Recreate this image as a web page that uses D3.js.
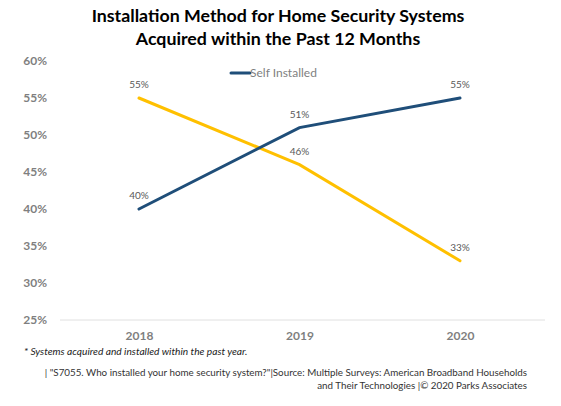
<!DOCTYPE html>
<html lang="en">
<head>
<meta charset="utf-8">
<title>Installation Method for Home Security Systems</title>
<script src="https://cdn.jsdelivr.net/npm/d3@7"></script>
<style>
  body { margin: 0; background: #fff; }
  text { font-family: Lato, "Open Sans", sans-serif; }
</style>
</head>
<body>
<script>
// Data
var years = ["2018", "2019", "2020"];
var selfInstalled = [40, 51, 55];
var otherInstalled = [55, 46, 33];
var yTicks = [25, 30, 35, 40, 45, 50, 55, 60];

var w = 561, h = 406;

var svg = d3.select("body").append("svg")
  .attr("width", w)
  .attr("height", h);

var x = d3.scalePoint()
  .domain(years)
  .range([139, 460]);

var y = d3.scaleLinear()
  .domain([25, 60])
  .range([320, 61]);

// Title
svg.append("text")
  .attr("x", 278).attr("y", 22)
  .attr("text-anchor", "middle")
  .style("font-size", "17.8px").style("font-weight", "bold").style("fill", "#000")
  .text("Installation Method for Home Security Systems");
svg.append("text")
  .attr("x", 278).attr("y", 45)
  .attr("text-anchor", "middle")
  .style("font-size", "17.8px").style("font-weight", "bold").style("fill", "#000")
  .text("Acquired within the Past 12 Months");

// Y axis labels
var yAxis = d3.axisLeft(y)
  .tickValues(yTicks)
  .tickFormat(function(d) { return d + "%"; })
  .tickSize(0);
var gy = svg.append("g")
  .attr("transform", "translate(47,0)")
  .call(yAxis);
gy.select(".domain").remove();
gy.selectAll("text")
  .attr("x", 0)
  .style("font-size", "12px").style("font-weight", "bold").style("fill", "#7f7f7f")
  .style("font-family", "Lato, 'Open Sans', sans-serif");

// Baseline
svg.append("line")
  .attr("x1", 60).attr("x2", 545)
  .attr("y1", y(25)).attr("y2", y(25))
  .style("stroke", "#e0e0e0").style("stroke-width", 1);

// X axis labels
var xAxis = d3.axisBottom(x).tickSize(0);
var gx = svg.append("g")
  .attr("transform", "translate(0," + (y(25) + 8) + ")")
  .call(xAxis);
gx.select(".domain").remove();
gx.selectAll("text")
  .style("font-size", "12px").style("font-weight", "bold").style("fill", "#7f7f7f")
  .style("font-family", "Lato, 'Open Sans', sans-serif");

var line = d3.line()
  .x(function(d, i) { return x(years[i]); })
  .y(function(d) { return y(d); });

var series = [
  { values: otherInstalled, color: "#ffc000" },
  { values: selfInstalled, color: "#1f4e79" }
];

series.forEach(function(s) {
  svg.append("path")
    .datum(s.values)
    .attr("d", line)
    .style("fill", "none")
    .style("stroke", s.color)
    .style("stroke-width", 3)
    .style("stroke-linecap", "round");

  svg.selectAll(null)
    .data(s.values)
    .enter()
    .append("text")
    .attr("x", function(d, i) { return x(years[i]); })
    .attr("y", function(d) { return y(d) - 10; })
    .attr("text-anchor", "middle")
    .style("font-size", "10px").style("fill", "#595959")
    .text(function(d) { return d + "%"; });
});

// Legend
svg.append("line")
  .attr("x1", 231).attr("x2", 250)
  .attr("y1", 73).attr("y2", 73)
  .style("stroke", "#1f4e79").style("stroke-width", 3).style("stroke-linecap", "round");
svg.append("text")
  .attr("x", 250).attr("y", 77)
  .style("font-size", "12px").style("fill", "#7f7f7f")
  .text("Self Installed");

// Footnotes
svg.append("text")
  .attr("x", 24).attr("y", 355)
  .style("font-size", "10.2px").style("font-style", "italic").style("fill", "#222")
  .text("* Systems acquired and installed within the past year.");
svg.append("text")
  .attr("x", 527).attr("y", 376)
  .attr("text-anchor", "end")
  .style("font-size", "9.8px").style("fill", "#333")
  .text("| \"S7055. Who installed your home security system?\"|Source: Multiple Surveys: American Broadband Households");
svg.append("text")
  .attr("x", 527).attr("y", 389)
  .attr("text-anchor", "end")
  .style("font-size", "9.8px").style("fill", "#333")
  .text("and Their Technologies  |© 2020 Parks Associates");
</script>
</body>
</html>
